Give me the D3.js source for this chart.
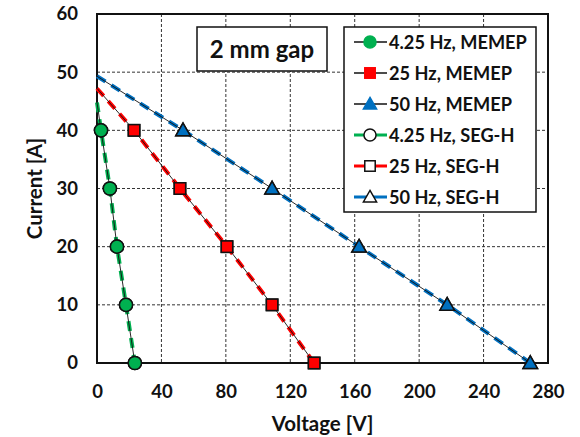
<!DOCTYPE html>
<html>
<head>
<meta charset="utf-8">
<script src="https://cdn.jsdelivr.net/npm/d3@7"></script>
<style>
  html, body { margin: 0; padding: 0; background: #fff; }
  svg { display: block; font-family: Lato, "Open Sans", sans-serif; font-weight: 700; }
</style>
</head>
<body>
<svg id="chart" width="580" height="437"></svg>
<script>
// Current levels shared by every series [A]
const currents = [40, 30, 20, 10, 0];

// Measured voltages [V] at each current level
const v425Memep = [2.5, 8, 12.4, 18, 23.5];
const v25Memep  = [23, 51.5, 80.7, 108.7, 134.8];
const v50Memep  = [53.4, 108.7, 162.7, 217.4, 269];
const v425Segh  = [2.5, 8, 12.4, 18, 23.5];
const v25Segh   = [23, 51.5, 80.7, 108.7, 134.8];
const v50Segh   = [53.4, 108.7, 162.7, 217.4, 269];

// Fitted line current at zero voltage [A]
const intercepts = [44.8, 47.2, 49.3];

const seriesNames = ["4.25 Hz, MEMEP", "25 Hz, MEMEP", "50 Hz, MEMEP",
                     "4.25 Hz, SEG-H", "25 Hz, SEG-H", "50 Hz, SEG-H"];
const seriesColors = ["#00B050", "#FF0000", "#0070C0"];
const seriesShapes = ["circle", "square", "triangle"];

const xTicks = [0, 40, 80, 120, 160, 200, 240, 280];
const yTicks = [0, 10, 20, 30, 40, 50, 60];

const svg = d3.select("#chart");
const plot = { left: 97, right: 548, top: 14, bottom: 363 };

const x = d3.scaleLinear().domain([0, 280]).range([plot.left, plot.right]);
const y = d3.scaleLinear().domain([0, 60]).range([plot.bottom, plot.top]);

// Grid
const grid = svg.append("g");
grid.selectAll("line.gx").data(xTicks.slice(1, -1)).join("line")
  .attr("x1", d => x(d)).attr("x2", d => x(d))
  .attr("y1", plot.top).attr("y2", plot.bottom)
  .attr("stroke", "#333").attr("stroke-width", 1).attr("stroke-dasharray", "3,2");
grid.selectAll("line.gy").data(yTicks.slice(1, -1)).join("line")
  .attr("x1", plot.left).attr("x2", plot.right)
  .attr("y1", d => y(d)).attr("y2", d => y(d))
  .attr("stroke", "#333").attr("stroke-width", 1).attr("stroke-dasharray", "3,2");

// Axes (labels only; frame drawn separately)
const xAxis = svg.append("g").attr("transform", `translate(0,${plot.bottom})`)
  .call(d3.axisBottom(x).tickValues(xTicks).tickSize(0).tickPadding(22));
const yAxis = svg.append("g").attr("transform", `translate(${plot.left},0)`)
  .call(d3.axisLeft(y).tickValues(yTicks).tickSize(0).tickPadding(19));
[xAxis, yAxis].forEach(a => {
  a.select(".domain").remove();
  a.selectAll("text").attr("font-family", "Lato, sans-serif").attr("font-weight", 700)
    .attr("font-size", 18.5).attr("fill", "#111");
});

// Frame
svg.append("rect")
  .attr("x", plot.left).attr("y", plot.top)
  .attr("width", plot.right - plot.left).attr("height", plot.bottom - plot.top)
  .attr("fill", "none").attr("stroke", "#111").attr("stroke-width", 2);

// Axis titles
svg.append("text").attr("x", (plot.left + plot.right) / 2).attr("y", 431)
  .attr("text-anchor", "middle").attr("font-size", 20.5).attr("fill", "#111")
  .text("Voltage [V]");
svg.append("text")
  .attr("transform", `translate(42,${(plot.top + plot.bottom) / 2}) rotate(-90)`)
  .attr("text-anchor", "middle").attr("font-size", 20.5).attr("fill", "#111")
  .text("Current [A]");

const memep = [v425Memep, v25Memep, v50Memep];
const segh = [v425Segh, v25Segh, v50Segh];

function linePoints(volts, i) {
  return [{ v: 0, c: intercepts[i] }].concat(volts.map((v, k) => ({ v, c: currents[k] })));
}
const line = d3.line().x(d => x(d.v)).y(d => y(d.c));

// SEG-H fitted lines: coloured dashes
segh.forEach((volts, i) => {
  svg.append("path").datum(linePoints(volts, i))
    .attr("d", line).attr("fill", "none")
    .attr("stroke", seriesColors[i]).attr("stroke-width", 4)
    .attr("stroke-dasharray", "10,7");
});
// MEMEP fitted lines: thin black
memep.forEach((volts, i) => {
  svg.append("path").datum(linePoints(volts, i))
    .attr("d", line).attr("fill", "none")
    .attr("stroke", "#111").attr("stroke-width", 0.9);
});

function marker(g, shape, cx, cy, fill, stroke, size) {
  if (shape === "circle") {
    g.append("circle").attr("cx", cx).attr("cy", cy).attr("r", size * 0.55)
      .attr("fill", fill).attr("stroke", stroke).attr("stroke-width", 1.5);
  } else if (shape === "square") {
    const s = size * 0.95;
    g.append("rect").attr("x", cx - s / 2).attr("y", cy - s / 2).attr("width", s).attr("height", s)
      .attr("fill", fill).attr("stroke", stroke).attr("stroke-width", 1.5);
  } else {
    const h = size * 1.0, w = size * 1.2;
    g.append("path")
      .attr("d", `M${cx},${cy - h * 0.6}L${cx + w / 2},${cy + h * 0.45}L${cx - w / 2},${cy + h * 0.45}Z`)
      .attr("fill", fill).attr("stroke", stroke).attr("stroke-width", 1.5);
  }
}

const marks = svg.append("g");
// SEG-H open markers
segh.forEach((volts, i) => {
  volts.forEach((v, k) => marker(marks, seriesShapes[i], x(v), y(currents[k]), "#fff", "#111", 12));
});
// MEMEP filled markers
memep.forEach((volts, i) => {
  volts.forEach((v, k) => marker(marks, seriesShapes[i], x(v), y(currents[k]), seriesColors[i], "#111", 12));
});

// Annotation box
const ann = svg.append("g");
ann.append("rect").attr("x", 197).attr("y", 27).attr("width", 130).attr("height", 44)
  .attr("fill", "#fff").attr("stroke", "#111").attr("stroke-width", 1.5);
ann.append("text").attr("x", 262).attr("y", 58).attr("text-anchor", "middle")
  .attr("font-size", 24).attr("fill", "#111").text("2 mm gap");

// Legend
const leg = svg.append("g");
leg.append("rect").attr("x", 344).attr("y", 27).attr("width", 192).attr("height", 185)
  .attr("fill", "#fff").attr("stroke", "#111").attr("stroke-width", 1.5);
seriesNames.forEach((name, j) => {
  const cy = 42 + j * 31;
  const i = j % 3;
  const isSegh = j >= 3;
  leg.append("line").attr("x1", 354).attr("x2", 387).attr("y1", cy).attr("y2", cy)
    .attr("stroke", isSegh ? seriesColors[i] : "#111").attr("stroke-width", isSegh ? 3 : 1.3);
  if (isSegh) marker(leg, seriesShapes[i], 370, cy, "#fff", "#111", 11);
  else marker(leg, seriesShapes[i], 370, cy, seriesColors[i], seriesColors[i], 11);
  leg.append("text").attr("x", 389).attr("y", cy + 6.5).attr("font-size", 18.2).attr("fill", "#111")
    .text(name);
});
</script>
</body>
</html>
